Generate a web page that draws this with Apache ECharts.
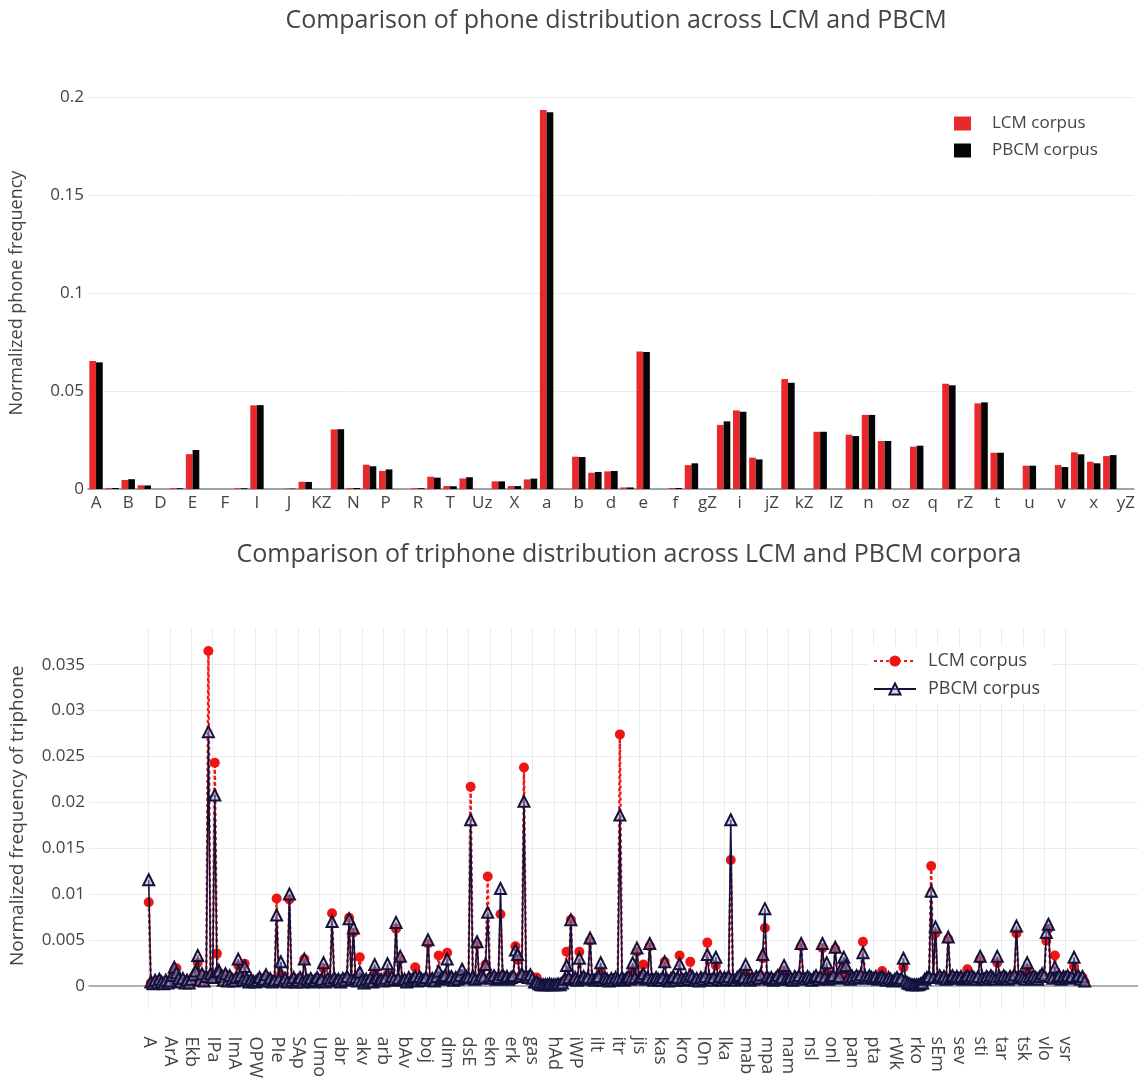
<!DOCTYPE html>
<html>
<head>
<meta charset="utf-8">
<script src="https://cdn.jsdelivr.net/npm/echarts@6/dist/echarts.min.js"></script>
<style>
html,body{margin:0;padding:0;background:#fff;}
#chart{width:1138px;height:1081px;}
</style>
</head>
<body>
<div id="chart"></div>
<script>
// ---------- Top chart: phone distribution ----------
const phones = ['A','Az','B','C','D','Dz','E','Ez','F','G','I','Iz','J','K','KZ','L','N','O','P','Q',
  'R','S','T','U','Uz','W','X','Z','a','az','b','c','d','dZ','e','ez','f','g','gZ','h',
  'i','j','jZ','k','kZ','l','lZ','m','n','o','oz','p','q','r','rZ','s','t','tZ','u','uz',
  'v','w','x','y','yZ'];
const phoneLCM = [.0653,.0005,.0046,.0019,0,.0004,.0178,0,0,.0004,
  .0427,0,.0002,.0037,0,.0304,.0005,.0124,.0092,0,
  .0004,.0063,.0015,.0054,0,.0039,.0015,.0049,.1934,0,
  .0165,.0083,.0090,.0008,.0701,0,.0005,.0122,0,.0327,
  .0401,.0160,0,.0561,0,.0292,0,.0277,.0378,.0245,
  0,.0216,0,.0537,0,.0437,.0185,0,.0119,0,
  .0122,.0187,.0139,.0168,0];
const phonePBCM = [.0646,.0005,.0050,.0018,0,.0004,.0199,0,0,.0004,
  .0428,0,.0002,.0036,0,.0305,.0005,.0116,.0100,0,
  .0004,.0058,.0014,.0060,0,.0039,.0015,.0053,.1922,0,
  .0163,.0087,.0092,.0008,.0699,0,.0005,.0131,0,.0345,
  .0394,.0151,0,.0542,0,.0292,0,.0270,.0378,.0245,
  0,.0221,0,.0529,0,.0442,.0185,0,.0119,0,
  .0112,.0177,.0131,.0173,0];
const phoneTicks = [0, 0.05, 0.1, 0.15, 0.2];

// ---------- Bottom chart: triphone distribution ----------
const triphones = [
 'A','AAk','AAl','AAn','Aba','AdA','Aka','Ala','Ana','Apa',
 'ArA','ArI','Ara','Ata','Ava','Aza','EAl','Eba','Eda','Eka',
 'Ekb','Ekl','Ela','Ema','Ena','Era','Esa','Eta','IAn','IPA',
 'IPa','IPe','IPi','IPo','Iba','Ida','Ifa','Iga','Ika','Ila',
 'ImA','Ima','Ina','Isa','Ita','OAn','OBa','OKa','OLa','OPA',
 'OPW','OPa','Oba','Oda','Oka','Ola','Ona','Ora','PAl','PIa',
 'PIe','PIi','POr','Pa','Pea','Pla','Pra','RAk','SAl','SAn',
 'SAp','SAr','SAt','Sa','Ska','Ta','Tha','UAk','Ual','Uma',
 'Umo','Una','Ura','Uta','XAn','aAk','aAl','aba','abi','abo',
 'abr','abs','ada','afa','aga','aha','aja','aka','akl','aks',
 'akv','akz','ala','alb','ama','ana','apa','aqa','ar','ara',
 'arb','ard','ark','asa','ata','ava','aza','bAk','bAl','bAn',
 'bAv','bIn','bOr','ba','bea','bia','bla','bna','boa','bod',
 'boj','bok','bra','bua','dAk','dOr','da','dea','dia','dik',
 'dim','din','dir','dja','dla','dna','doa','dra','dsA','dsC',
 'dsE','dsa','dua','eAk','eIs','ea','eba','eda','ega','eka',
 'ekn','eks','ela','ema','ena','eoa','epa','era','erb','erd',
 'erk','erl','esa','eta','eva','fa','fla','gAk','gaa','gal',
 'gas','gat','gea','gia','gla','gra','gua','hAa','hAb','hAc',
 'hAd','hAl','hIs','ha','hea','hia','iAk','iIs','iOr','iWA',
 'iWP','iWa','ia','iba','ida','iga','ika','ila','ilk','ils',
 'ilt','ima','ina','ioa','ipa','ira','isa','ita','itk','itp',
 'itr','its','iva','iza','jAk','jIs','ja','jea','jia','jin',
 'jis','jit','joa','jua','kAk','kIs','kOr','ka','kab','kal',
 'kas','kat','kea','kia','kla','kma','kna','koa','kra','krn',
 'kro','kru','ksa','kta','kua','lAk','lAn','lIs','lOa','lOk',
 'lOn','lOr','lUz','la','lba','lda','lea','lga','lia','lja',
 'lka','lke','lla','lma','loa','lpa','lsa','lua','mAk','maa',
 'mab','mad','mag','mal','man','mea','mia','mla','moa','mpA',
 'mpa','mpe','mra','msa','mua','nAk','nIs','nOr','na','nal',
 'nam','nan','nda','nea','nga','nia','nka','noa','nra','nsa',
 'nsl','nta','nua','oAk','oIs','oa','oba','oda','oka','ola',
 'onl','ono','opa','ora','osa','ota','ova','pAk','pa','pal',
 'pan','par','pea','pia','pla','poa','pra','psa','pt','ptA',
 'pta','pte','pua','qa','qea','rAk','rAn','rIs','rOr','rWa',
 'rWk','rWo','ra','rba','rda','rea','rga','ria','rja','rka',
 'rko','rla','rma','rna','roa','rsa','rta','rua','sAk','sEa',
 'sEm','sEn','sIs','sOr','sa','sba','sda','sea','sek','ser',
 'sev','sez','sia','ska','sla','sma','sna','soa','spa','sta',
 'sti','sto','sua','tAk','tIs','tOr','ta','tad','tak','tan',
 'tar','tas','tea','tia','tla','toa','tra','tsa','tse','tsi',
 'tsk','tso','tua','uAk','ua','uka','vAk','va','vea','via',
 'vlo','voa','vra','vsa','vse','vsi','vsk','vsl','vsn','vso',
 'vsr','vst','vua','wAk','wa','wea','xAk','xa','yAk','ya'
];
const triLCM = [
 .0091,.0003,.0001,.0005,.0002,.0006,.0004,.0001,.0005,.0003,
 .0004,.0009,.0017,.0019,.0006,.0003,.0007,.0002,.0005,.0002,
 .0006,.0010,.0013,.0025,.0005,.0012,.0004,.0009,.0365,.0011,
 .0008,.0243,.0035,.0014,.0009,.0005,.0012,.0004,.0010,.0006,
 .0004,.0008,.0022,.0010,.0005,.0024,.0007,.0003,.0006,.0004,
 .0003,.0005,.0008,.0004,.0006,.0010,.0004,.0007,.0003,.0005,
 .0095,.0006,.0012,.0004,.0007,.0003,.0094,.0005,.0008,.0003,
 .0005,.0008,.0003,.0029,.0006,.0004,.0007,.0003,.0005,.0008,
 .0004,.0006,.0019,.0003,.0007,.0005,.0079,.0008,.0004,.0006,
 .0003,.0007,.0005,.0009,.0074,.0006,.0058,.0008,.0004,.0031,
 .0005,.0002,.0006,.0004,.0007,.0003,.0015,.0008,.0005,.0006,
 .0004,.0007,.0012,.0005,.0009,.0006,.0062,.0007,.0029,.0005,
 .0006,.0003,.0008,.0005,.0007,.0020,.0004,.0009,.0006,.0005,
 .0008,.0046,.0005,.0007,.0004,.0009,.0033,.0006,.0008,.0010,
 .0036,.0007,.0009,.0005,.0008,.0006,.0010,.0012,.0007,.0009,
 .0008,.0217,.0009,.0006,.0045,.0007,.0010,.0008,.0023,.0119,
 .0009,.0007,.0010,.0006,.0008,.0078,.0011,.0007,.0009,.0006,
 .0008,.0010,.0043,.0028,.0009,.0012,.0238,.0010,.0008,.0011,
 .0007,.0004,.0009,.0003,.0002,.0001,.0002,.0001,.0002,.0001,
 .0002,.0001,.0002,.0002,.0004,.0006,.0037,.0008,.0072,.0006,
 .0008,.0005,.0037,.0007,.0009,.0006,.0008,.0049,.0007,.0005,
 .0007,.0009,.0016,.0005,.0008,.0006,.0004,.0007,.0005,.0008,
 .0006,.0274,.0008,.0005,.0007,.0009,.0006,.0017,.0008,.0037,
 .0007,.0009,.0023,.0006,.0008,.0043,.0007,.0005,.0008,.0006,
 .0005,.0008,.0026,.0006,.0004,.0007,.0009,.0005,.0008,.0033,
 .0007,.0005,.0008,.0006,.0026,.0009,.0005,.0007,.0004,.0008,
 .0006,.0009,.0047,.0007,.0005,.0008,.0022,.0006,.0009,.0005,
 .0008,.0006,.0009,.0137,.0007,.0005,.0008,.0010,.0006,.0008,
 .0014,.0007,.0005,.0008,.0006,.0009,.0007,.0011,.0030,.0063,
 .0009,.0006,.0008,.0005,.0007,.0010,.0006,.0008,.0016,.0007,
 .0006,.0008,.0005,.0009,.0007,.0010,.0043,.0008,.0006,.0009,
 .0007,.0005,.0008,.0010,.0006,.0009,.0041,.0008,.0015,.0006,
 .0008,.0010,.0040,.0007,.0009,.0016,.0023,.0018,.0008,.0006,
 .0009,.0007,.0010,.0008,.0011,.0048,.0009,.0007,.0010,.0008,
 .0007,.0009,.0006,.0008,.0016,.0007,.0005,.0008,.0006,.0004,
 .0006,.0008,.0005,.0007,.0020,.0004,.0003,.0002,.0001,.0001,
 .0002,.0001,.0002,.0004,.0006,.0008,.0009,.01305,.0008,.0057,
 .0008,.0010,.0007,.0009,.0006,.0051,.0008,.0010,.0007,.0009,
 .0007,.0009,.0006,.0008,.0018,.0007,.0010,.0008,.0006,.0009,
 .0029,.0008,.0006,.0009,.0007,.0010,.0008,.0006,.0025,.0009,
 .0007,.0010,.0008,.0006,.0009,.0007,.0011,.0057,.0008,.0010,
 .0008,.0006,.0018,.0009,.0007,.0010,.0008,.0006,.0009,.0012,
 .0010,.0049,.0062,.0009,.0007,.0033,.0008,.0010,.0006,.0009,
 .0008,.0010,.0007,.0009,.0021,.0008,.0010,.0006,.0009,.0004
];
const triPBCM = [
 .01155,.0004,.0002,.0006,.0003,.0007,.0004,.0002,.0006,.0003,
 .0005,.0011,.0020,.0014,.0008,.0004,.0008,.0003,.0006,.0003,
 .0007,.0012,.0016,.0033,.0006,.0013,.0005,.0010,.0277,.0013,
 .0009,.0208,.0015,.0016,.0010,.0006,.0013,.0005,.0011,.0007,
 .0005,.0009,.0029,.0011,.0006,.0021,.0008,.0004,.0007,.0005,
 .0004,.0006,.0009,.0005,.0007,.0012,.0005,.0008,.0004,.0006,
 .0077,.0007,.0026,.0005,.0008,.0004,.0100,.0006,.0009,.0004,
 .0006,.0009,.0004,.0029,.0007,.0005,.0008,.0004,.0006,.0009,
 .0005,.0007,.0025,.0004,.0008,.0006,.0070,.0009,.0005,.0007,
 .0004,.0008,.0006,.0010,.0073,.0007,.0063,.0009,.0005,.0015,
 .0006,.0003,.0007,.0005,.0008,.0004,.0023,.0009,.0006,.0007,
 .0005,.0008,.0024,.0006,.0010,.0007,.0069,.0008,.0032,.0006,
 .0007,.0004,.0009,.0006,.0008,.0010,.0005,.0010,.0007,.0006,
 .0009,.0050,.0006,.0008,.0005,.0010,.0016,.0007,.0009,.0011,
 .0029,.0008,.0010,.0006,.0009,.0007,.0011,.0018,.0008,.0010,
 .0009,.0181,.0010,.0007,.0048,.0008,.0011,.0009,.0023,.0080,
 .0010,.0008,.0011,.0007,.0009,.0106,.0012,.0008,.0010,.0007,
 .0009,.0011,.0039,.0034,.0010,.0013,.0201,.0011,.0009,.0012,
 .0008,.0004,.0004,.0002,.0001,.0001,.0001,.0001,.0002,.0001,
 .0001,.0001,.0002,.0001,.0003,.0007,.0022,.0009,.0072,.0007,
 .0009,.0006,.0030,.0008,.0010,.0007,.0009,.0052,.0008,.0006,
 .0008,.0010,.0025,.0006,.0009,.0007,.0005,.0008,.0006,.0009,
 .0007,.0186,.0009,.0006,.0008,.0010,.0007,.0025,.0009,.0041,
 .0008,.0010,.0013,.0007,.0009,.0046,.0008,.0006,.0009,.0007,
 .0006,.0009,.0026,.0007,.0005,.0008,.0010,.0006,.0009,.0024,
 .0008,.0006,.0009,.0007,.0012,.0010,.0006,.0008,.0005,.0009,
 .0007,.0010,.0034,.0008,.0006,.0009,.0031,.0007,.0010,.0006,
 .0009,.0007,.0010,.0181,.0008,.0006,.0009,.0011,.0007,.0009,
 .0023,.0008,.0006,.0009,.0007,.0010,.0008,.0012,.0034,.0084,
 .0010,.0007,.0009,.0006,.0008,.0011,.0007,.0009,.0022,.0008,
 .0007,.0009,.0006,.0010,.0008,.0011,.0046,.0009,.0007,.0010,
 .0008,.0006,.0009,.0011,.0007,.0010,.0046,.0009,.0025,.0007,
 .0009,.0011,.0042,.0008,.0010,.0020,.0031,.0022,.0009,.0007,
 .0010,.0008,.0011,.0009,.0012,.0036,.0010,.0008,.0011,.0009,
 .0008,.0010,.0007,.0009,.0010,.0008,.0006,.0009,.0007,.0005,
 .0007,.0009,.0006,.0008,.0030,.0005,.0003,.0002,.0001,.0001,
 .0001,.0001,.0002,.0003,.0007,.0009,.0010,.0103,.0009,.0064,
 .0009,.0011,.0008,.0010,.0007,.0053,.0009,.0011,.0008,.0010,
 .0008,.0010,.0007,.0009,.0011,.0008,.0011,.0009,.0007,.0010,
 .0032,.0009,.0007,.0010,.0008,.0011,.0009,.0007,.0032,.0010,
 .0008,.0011,.0009,.0007,.0010,.0008,.0012,.0065,.0009,.0011,
 .0009,.0007,.0025,.0010,.0008,.0011,.0009,.0007,.0010,.0013,
 .0011,.0058,.0067,.0010,.0008,.0020,.0009,.0011,.0007,.0010,
 .0009,.0011,.0008,.0010,.0031,.0009,.0011,.0007,.0010,.0005
];
const triYTicks = [0, 0.005, 0.01, 0.015, 0.02, 0.025, 0.03, 0.035];
const TICK_EVERY = 10; // one labelled triphone every 10 categories
const triXTicks = triphones.map((_, i) => i).filter(i => i % TICK_EVERY === 0);

const FONT = '"Open Sans", "Noto Sans", sans-serif';
const TXT = '#444';
const GRID = '#ebebeb';
const NAVY = '#12123c';

const chart = echarts.init(document.getElementById('chart'), null, {renderer: 'canvas'});
chart.setOption({
  animation: false,
  backgroundColor: '#fff',
  textStyle: {fontFamily: FONT, color: TXT},
  title: [
    {text: 'Comparison of phone distribution across LCM and PBCM', left: 611, top: 3, textAlign: 'center',
     textStyle: {fontFamily: FONT, fontSize: 25, fontWeight: 'normal', color: TXT}},
    {text: 'Comparison of triphone distribution across LCM and PBCM corpora', left: 624, top: 537, textAlign: 'center',
     textStyle: {fontFamily: FONT, fontSize: 25, fontWeight: 'normal', color: TXT}}
  ],
  legend: [
    {data: ['LCM corpus', 'PBCM corpus'], orient: 'vertical', left: 949, top: 110,
     icon: 'rect', itemWidth: 17, itemHeight: 14, itemGap: 10,
     textStyle: {fontFamily: FONT, fontSize: 17, color: TXT, padding: [0, 0, 0, 16]}},
    {data: ['LCM corpus ', 'PBCM corpus '], orient: 'vertical', left: 867, top: 646,
     itemWidth: 42, itemHeight: 14, itemGap: 10, padding: [6, 12, 6, 6], backgroundColor: '#fff',
     formatter: n => n.trim(),
     textStyle: {fontFamily: FONT, fontSize: 18, color: TXT, padding: [0, 0, 0, 7]}}
  ],
  grid: [
    {left: 85, top: 97, width: 1052, height: 392},
    {left: 83, top: 628, width: 1055, height: 399.4}
  ],
  xAxis: [
    {gridIndex: 0, type: 'category', data: phones,
     axisLine: {lineStyle: {color: '#888', width: 1.5}}, axisTick: {show: false},
     axisLabel: {interval: 1, fontSize: 17, color: TXT, margin: 6, fontFamily: FONT}},
    {gridIndex: 1, type: 'value', min: -28, max: 464,
     axisLine: {onZero: true, lineStyle: {color: '#999', width: 1.5}},
     axisTick: {show: false, customValues: triXTicks},
     splitLine: {show: true, lineStyle: {color: GRID, width: 1}},
     axisLabel: {customValues: triXTicks, rotate: -90, fontSize: 18, color: TXT, margin: 27, fontFamily: FONT,
       formatter: v => triphones[v] || ''}}
  ],
  yAxis: [
    {gridIndex: 0, type: 'value', min: 0, max: 0.2, interval: 0.05,
     name: 'Normalized phone frequency', nameLocation: 'middle', nameGap: 62,
     nameTextStyle: {fontSize: 18, color: TXT, fontFamily: FONT},
     axisLine: {show: false}, axisTick: {show: false},
     splitLine: {lineStyle: {color: GRID}},
     axisLabel: {fontSize: 17, color: TXT, margin: 4, fontFamily: FONT,
       formatter: v => phoneTicks.includes(+v.toFixed(4)) ? String(+v.toFixed(4)) : ''}},
    {gridIndex: 1, type: 'value', min: -0.0026, max: 0.039,
     name: 'Normalized frequency of triphone', nameLocation: 'middle', nameGap: 62,
     nameTextStyle: {fontSize: 19, color: TXT, fontFamily: FONT, padding: [0, 0, 0, 6]},
     axisLine: {show: false}, axisTick: {show: false, customValues: triYTicks},
     splitLine: {lineStyle: {color: GRID}},
     axisLabel: {customValues: triYTicks, fontSize: 17, color: TXT, margin: 4, fontFamily: FONT,
       formatter: v => String(+(+v).toFixed(4))}}
  ],
  series: [
    {name: 'LCM corpus', type: 'bar', xAxisIndex: 0, yAxisIndex: 0, data: phoneLCM,
     barWidth: 6.7, barGap: '0%', itemStyle: {color: '#e8282c'}},
    {name: 'PBCM corpus', type: 'bar', xAxisIndex: 0, yAxisIndex: 0, data: phonePBCM,
     barWidth: 6.7, barGap: '0%', itemStyle: {color: '#050505'}},
    {name: 'LCM corpus ', type: 'line', xAxisIndex: 1, yAxisIndex: 1,
     data: triLCM.map((v, i) => [i, v]),
     symbol: 'circle', symbolSize: 10, showAllSymbol: true,
     itemStyle: {color: '#f01515'},
     lineStyle: {color: '#f01515', width: 2.4, type: [3, 3]}, z: 3},
    {name: 'PBCM corpus ', type: 'line', xAxisIndex: 1, yAxisIndex: 1,
     data: triPBCM.map((v, i) => [i, v]),
     symbol: 'triangle', symbolSize: 11, showAllSymbol: true,
     itemStyle: {color: 'rgba(170,170,215,0.45)', borderColor: NAVY, borderWidth: 2},
     lineStyle: {color: NAVY, width: 1.6}, z: 4}
  ]
});
</script>
</body>
</html>
